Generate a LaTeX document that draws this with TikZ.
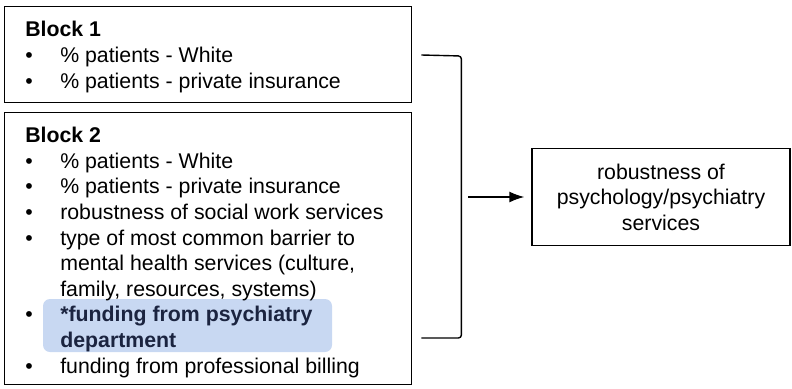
\documentclass[tikz,border=0pt]{standalone}
\usepackage{fontspec}
\setmainfont{Liberation Sans}
\usepackage{xcolor}
\usetikzlibrary{positioning, arrows.meta}

\definecolor{hiliteblue}{HTML}{C8D8F2}
\definecolor{hilitetext}{HTML}{1B2440}
\newcommand{\itm}{\makebox[35pt][l]{\textbullet}}
\newcommand{\cnt}{\hspace*{35pt}}

\begin{document}
\begin{tikzpicture}[x=1pt, y=1pt, >={Latex[length=15pt,width=11pt]}, semithick,
    blockbox/.style={draw, line width=1.4pt, anchor=north west, inner sep=0pt},
    listtext/.style={anchor=base west, inner sep=0pt, align=left,
        font={\fontsize{21.3}{25.6}\selectfont}},
    outbox/.style={draw, line width=1.4pt, align=center, inner sep=0pt,
        minimum width=258pt, minimum height=97pt,
        font={\fontsize{21.3}{25.6}\selectfont}},
    hilite/.style={fill=hiliteblue, rounded corners=7pt}]
        \useasboundingbox (0,0) rectangle (792,-388);

        \node[blockbox, minimum width=407pt, minimum height=96pt] (blk1) at (4,-6) {};
        \node[blockbox, minimum width=407pt, minimum height=272pt] (blk2) at (4,-112) {};
        \node[outbox] (robust) at (661,-197) {robustness of\\psychology/psychiatry\\services};

        \fill[hilite] ([xshift=39pt,yshift=-187pt]blk2.north west) rectangle ++(289,-53);

        \node[listtext] (list1) at ([xshift=21pt,yshift=-82pt]blk1.north west)
            {\textbf{Block 1}\\
             \itm\% patients - White\\
             \itm\% patients - private insurance};
        \node[listtext] (list2) at ([xshift=21pt,yshift=-261pt]blk2.north west)
            {\textbf{Block 2}\\
             \itm\% patients - White\\
             \itm\% patients - private insurance\\
             \itm robustness of social work services\\
             \itm type of most common barrier to\\
             \cnt mental health services (culture,\\
             \cnt family, resources, systems)\\
             \itm\textcolor{hilitetext}{\textbf{*funding from psychiatry}}\\
             \cnt\textcolor{hilitetext}{\textbf{department}}\\
             \itm funding from professional billing};

        \coordinate (brtop) at ([xshift=9pt]blk1.east |- 0,-55);
        \coordinate (brbot) at ([xshift=9pt]blk2.east |- 0,-338);
        \draw[line width=1.4pt, rounded corners=3pt] (brtop) -- ++(40,-1) |- (brbot);
        \coordinate (brmid) at ([xshift=56pt]blk1.east |- robust.west);
        \draw[->, line width=1.4pt, shorten >=7pt] (brmid) -- (robust.west);
\end{tikzpicture}
\end{document}
